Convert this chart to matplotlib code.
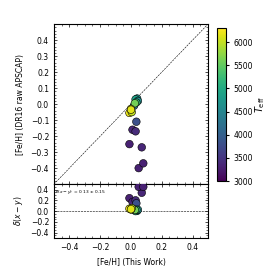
import numpy as np
import matplotlib
matplotlib.use('Agg')
import matplotlib.pyplot as plt

# [Fe/H] this work, [Fe/H] DR16 raw, Teff
feh_this = [-0.01, 0.01, 0.03, 0.035, 0.07, 0.05, 0.08,
            0.04, 0.03, 0.045, 0.035, 0.02, 0.025, 0.0, -0.01, 0.005, 0.0]
feh_dr16 = [-0.25, -0.16, -0.17, -0.11, -0.27, -0.40, -0.37,
            0.035, 0.03, 0.02, 0.01, -0.01, 0.005, -0.03, -0.055, -0.05, -0.035]
teff = [3300, 3350, 3400, 3800, 3350, 3300, 3300,
        4700, 4900, 4600, 5200, 4200, 5600, 6100, 6200, 6000, 6150]

x = np.array(feh_this)
y = np.array(feh_dr16)
d = x - y

plt.rcParams['font.size'] = 5.5
plt.rcParams['xtick.direction'] = 'in'
plt.rcParams['ytick.direction'] = 'in'
plt.rcParams['xtick.top'] = True
plt.rcParams['ytick.right'] = True

fig = plt.figure(figsize=(2.74, 2.74), dpi=100)
ax = fig.add_axes([0.197, 0.328, 0.562, 0.584])
ax2 = fig.add_axes([0.197, 0.131, 0.562, 0.197])
cax = fig.add_axes([0.792, 0.339, 0.033, 0.558])

ax.plot([-0.5, 0.5], [-0.5, 0.5], 'k--', lw=0.4)
sc = ax.scatter(x, y, c=teff, cmap='viridis', vmin=3000, vmax=6300,
                s=30, edgecolors='k', linewidths=0.4, zorder=3)
ax.set_xlim(-0.5, 0.5)
ax.set_ylim(-0.5, 0.5)
ax.set_yticks([-0.4, -0.3, -0.2, -0.1, 0.0, 0.1, 0.2, 0.3, 0.4])
ax.set_xticks([-0.4, -0.2, 0.0, 0.2, 0.4])
ax.set_xticklabels([])
ax.minorticks_on()
ax.set_ylabel('[Fe/H] (DR16 raw APSCAP)')

ax2.axhline(0, color='k', ls='--', lw=0.4)
ax2.scatter(x, d, c=teff, cmap='viridis', vmin=3000, vmax=6300,
            s=30, edgecolors='k', linewidths=0.4, zorder=3)
ax2.set_xlim(-0.5, 0.5)
ax2.set_ylim(-0.5, 0.5)
ax2.set_yticks([-0.4, -0.2, 0.0, 0.2, 0.4])
ax2.set_xticks([-0.4, -0.2, 0.0, 0.2, 0.4])
ax2.minorticks_on()
ax2.set_xlabel('[Fe/H] (This Work)')
ax2.set_ylabel(r'$\delta(x-y)$')
ax2.text(0.005, 0.93, r'$\delta(x-y)$ = 0.13 $\pm$ 0.15', transform=ax2.transAxes,
         fontsize=3.2, va='top', ha='left')

cb = fig.colorbar(sc, cax=cax)
cb.set_ticks([3000, 3500, 4000, 4500, 5000, 5500, 6000])
cb.ax.tick_params(direction='out', right=True, length=2)
cb.set_label(r'$T_{\rm eff}$', fontsize=7, labelpad=0)

for a in (ax, ax2):
    a.tick_params(which='major', length=2.5, width=0.5)
    a.tick_params(which='minor', length=1.2, width=0.4)
    for s in a.spines.values():
        s.set_linewidth(0.8)

fig.savefig('out.png', dpi=100)
